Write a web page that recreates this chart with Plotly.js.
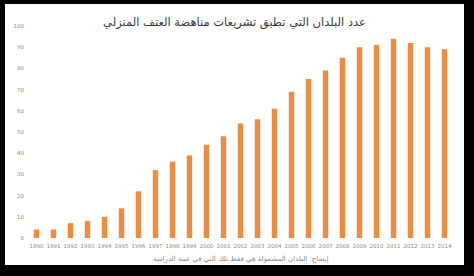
<!DOCTYPE html>
<html>
<head>
<meta charset="utf-8">
<script src="https://cdn.plot.ly/plotly-3.0.1.min.js"></script>
<style>
html,body{margin:0;padding:0;background:#000;width:474px;height:276px;overflow:hidden;}
#chart{position:absolute;left:5px;top:4px;width:459px;height:261px;background:#fff;}
</style>
</head>
<body>
<div id="chart"></div>
<script>
const years = ["1990","1991","1992","1993","1994","1995","1996","1997","1998","1999","2000","2001","2002","2003","2004","2005","2006","2007","2008","2009","2010","2011","2012","2013","2014"];
const countries = [4,4,7,8,10,14,22,32,36,39,44,48,54,56,61,69,75,79,85,90,91,94,92,90,89];
const yTicks = [0,10,20,30,40,50,60,70,80,90,100];
const titleText = "عدد البلدان التي تطبق تشريعات مناهضة العنف المنزلي";
const noteText = "إيضاح: البلدان المشمولة هي فقط تلك التي في عينة الدراسة";

const trace = {
  type: "bar",
  x: years,
  y: countries,
  marker: {color: "#EA8E45"},
  hoverinfo: "x+y"
};

const layout = {
  width: 459,
  height: 261,
  margin: {l: 22.5, r: 11, t: 22, b: 26.5},
  paper_bgcolor: "#fff",
  plot_bgcolor: "#fff",
  bargap: 0.68,
  showlegend: false,
  title: {
    text: titleText,
    x: 0.5, xanchor: "center",
    y: 1, yref: "paper", yanchor: "bottom",
    pad: {b: 0},
    font: {family: "DejaVu Sans, sans-serif", size: 11.5, color: "#3a3a3a"}
  },
  xaxis: {
    type: "category",
    tickvals: years,
    ticktext: years,
    showgrid: false,
    zeroline: false,
    showline: false,
    ticks: "",
    ticklen: 0,
    ticklabelstandoff: 3,
    tickfont: {family: "DejaVu Sans, sans-serif", size: 5.5, color: "#8a8a8a"},
    range: [-0.5, years.length - 0.5],
    fixedrange: true
  },
  yaxis: {
    range: [0, 100],
    tickvals: yTicks,
    ticktext: yTicks.map(String),
    showgrid: false,
    zeroline: false,
    showline: false,
    ticks: "",
    ticklabelstandoff: 3,
    tickfont: {family: "DejaVu Sans, sans-serif", size: 5.5, color: "#8a8a8a"},
    fixedrange: true
  },
  annotations: [{
    text: noteText,
    xref: "paper", yref: "paper",
    x: 0.5, y: 0, xanchor: "center", yanchor: "middle",
    yshift: -21,
    showarrow: false,
    font: {family: "DejaVu Sans, sans-serif", size: 7, color: "#8a8a8a"}
  }]
};

Plotly.newPlot("chart", [trace], layout, {displayModeBar: false, staticPlot: true});
</script>
</body>
</html>
